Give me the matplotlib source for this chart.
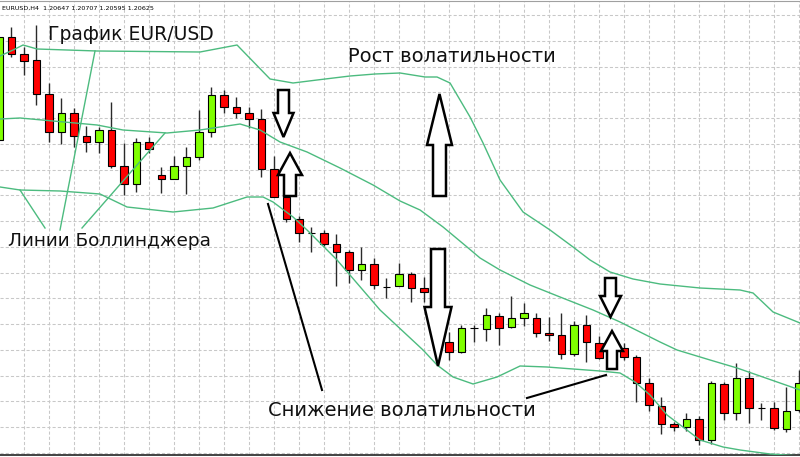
import numpy as np
import matplotlib
matplotlib.use("Agg")
import matplotlib.pyplot as plt
from matplotlib.transforms import Affine2D
from matplotlib.patches import Polygon

# EUR/USD H4 candles (bar index 0..64), prices
opens = [1.1960, 1.2063, 1.2046, 1.2040, 1.2006, 1.1968, 1.1987, 1.1964, 1.1958, 1.1970,
         1.1934, 1.1916, 1.1958, 1.1925, 1.1921, 1.1934, 1.1943, 1.1968, 1.2005, 1.1993,
         1.1987, 1.1981, 1.1931, 1.1903, 1.1881, 1.1867, 1.1867, 1.1856, 1.1848, 1.1830,
         1.1836, 1.1813, 1.1814, 1.1826, 1.1812, 1.1808, 1.1758, 1.1748, 1.1772, 1.1771,
         1.1784, 1.1773, 1.1782, 1.1782, 1.1767, 1.1765, 1.1746, 1.1775, 1.1757, 1.1748,
         1.1752, 1.1743, 1.1717, 1.1694, 1.1676, 1.1673, 1.1681, 1.1660, 1.1716, 1.1687,
         1.1722, 1.1692, 1.1692, 1.1671, 1.1690]
highs = [1.2067, 1.2073, 1.2053, 1.2075, 1.2017, 1.2002, 1.1992, 1.1974, 1.1973, 1.1998,
         1.1957, 1.1962, 1.1963, 1.1933, 1.1944, 1.1953, 1.1990, 1.2013, 1.2010, 1.2003,
         1.1993, 1.1991, 1.1944, 1.1910, 1.1884, 1.1873, 1.1870, 1.1866, 1.1850, 1.1853,
         1.1842, 1.1822, 1.1837, 1.1828, 1.1823, 1.1812, 1.1768, 1.1775, 1.1775, 1.1792,
         1.1787, 1.1804, 1.1797, 1.1787, 1.1783, 1.1787, 1.1779, 1.1785, 1.1764, 1.1758,
         1.1757, 1.1745, 1.1722, 1.1703, 1.1678, 1.1687, 1.1684, 1.1719, 1.1718, 1.1737,
         1.1729, 1.1697, 1.1698, 1.1713, 1.1730]
lows = [1.1958, 1.2043, 1.2025, 1.1995, 1.1958, 1.1956, 1.1953, 1.1948, 1.1947, 1.1932,
        1.1905, 1.1908, 1.1947, 1.1907, 1.1921, 1.1906, 1.1940, 1.1963, 1.1987, 1.1982,
        1.1972, 1.1923, 1.1903, 1.1878, 1.1858, 1.1848, 1.1854, 1.1814, 1.1817, 1.1820,
        1.1811, 1.1802, 1.1814, 1.1798, 1.1798, 1.1778, 1.1740, 1.1747, 1.1758, 1.1759,
        1.1755, 1.1772, 1.1774, 1.1763, 1.1759, 1.1741, 1.1744, 1.1738, 1.1741, 1.1736,
        1.1740, 1.1698, 1.1689, 1.1666, 1.1669, 1.1669, 1.1655, 1.1656, 1.1680, 1.1680,
        1.1677, 1.1680, 1.1670, 1.1668, 1.1688]
closes = [1.2063, 1.2046, 1.2039, 1.2006, 1.1968, 1.1987, 1.1964, 1.1958, 1.1970, 1.1934,
          1.1916, 1.1958, 1.1951, 1.1921, 1.1934, 1.1943, 1.1968, 1.2005, 1.1993, 1.1987,
          1.1981, 1.1931, 1.1903, 1.1881, 1.1867, 1.1867, 1.1856, 1.1848, 1.1830, 1.1836,
          1.1815, 1.1813, 1.1826, 1.1812, 1.1808, 1.1788, 1.1748, 1.1772, 1.1772, 1.1785,
          1.1772, 1.1782, 1.1787, 1.1767, 1.1765, 1.1746, 1.1775, 1.1758, 1.1742, 1.1754,
          1.1743, 1.1717, 1.1695, 1.1676, 1.1673, 1.1681, 1.1660, 1.1717, 1.1687, 1.1722,
          1.1692, 1.1692, 1.1672, 1.1689, 1.1717]

# Bollinger bands, sampled along the curves (bar position, price)
upper_x = [0.1, 1.14, 1.94, 3.06, 7.86, 16.1, 19.06, 21.7, 23.54, 25.46, 28.1, 30.1, 32.1,
           34.1, 35.06, 36.1, 37.7, 38.74, 40.1, 41.94, 44.1, 45.94, 47.3, 48.9, 50.74,
           52.9, 56.1, 59.3, 60.34, 61.94, 64.1]
upper_y = [1.2044, 1.2050, 1.2055, 1.2051, 1.2049, 1.2048, 1.2055, 1.2021, 1.2017, 1.2020,
           1.2024, 1.2026, 1.2027, 1.2023, 1.2023, 1.2017, 1.1983, 1.1957, 1.1920, 1.1888,
           1.1870, 1.1853, 1.1840, 1.1828, 1.1821, 1.1816, 1.1812, 1.1810, 1.1807, 1.1788,
           1.1777]
middle_x = [0.1, 1.7, 7.86, 9.94, 13.46, 16.1, 19.3, 20.9, 22.5, 24.66, 27.3, 29.94, 32.1,
            33.7, 35.54, 37.46, 38.5, 40.1, 42.5, 44.9, 47.54, 49.7, 52.9, 54.26, 56.9,
            59.06, 64.1]
middle_y = [1.1981, 1.1982, 1.1975, 1.1970, 1.1967, 1.1970, 1.1976, 1.1970, 1.1958, 1.1948,
            1.1932, 1.1915, 1.1899, 1.1890, 1.1873, 1.1853, 1.1842, 1.1830, 1.1815, 1.1803,
            1.1790, 1.1778, 1.1758, 1.1750, 1.1740, 1.1732, 1.1710]
lower_x = [0.1, 1.7, 4.9, 8.1, 10.26, 13.94, 17.14, 19.86, 21.14, 21.94, 23.54, 24.66, 25.7,
           27.06, 30.5, 33.94, 35.06, 36.34, 37.94, 39.86, 41.7, 43.86, 45.94, 48.1, 49.7,
           50.9, 52.1, 53.46, 56.1, 57.94, 59.3, 61.7, 64.1]
lower_y = [1.1913, 1.1910, 1.1909, 1.1906, 1.1893, 1.1888, 1.1892, 1.1903, 1.1903, 1.1898,
           1.1883, 1.1870, 1.1857, 1.1840, 1.1790, 1.1750, 1.1735, 1.1723, 1.1716, 1.1723,
           1.1734, 1.1733, 1.1731, 1.1729, 1.1727, 1.1718, 1.1705, 1.1685, 1.1660, 1.1653,
           1.1650, 1.1646, 1.1644]

header = "EURUSD,H4  1.20647 1.20707 1.20595 1.20625"

W, H = 800, 457
fig = plt.figure(figsize=(W / 100, H / 100), dpi=100)
fig.patch.set_facecolor("white")
ax = fig.add_axes([0, 2 / H, 1, 454 / H])
ax.set_xlim(0.096, 64.096)
ax.set_ylim(1.1645, 1.2099)

# dashed terminal grid
ax.set_xticks(np.arange(2.016, 64.1, 2))
ax.set_yticks(1.2085 - 0.002575 * np.arange(18))
ax.grid(True, color="#c8c8c8", lw=0.75, ls=(0, (3, 2)))
ax.set_axisbelow(True)
ax.tick_params(length=0, labelbottom=False, labelleft=False)
for s in ["left", "right"]:
    ax.spines[s].set_visible(False)
ax.spines["top"].set_color("#a0a0a0")
ax.spines["bottom"].set_color("#222222")
ax.spines["bottom"].set_linewidth(1.2)

o = np.array(opens)
c = np.array(closes)
x = np.arange(len(o))
cols = np.where(c >= o, "#80ff00", "#ff0000")
ax.vlines(x, lows, highs, color="#2a2a2a", lw=1.0, zorder=2)
ax.bar(x, np.abs(c - o), bottom=np.minimum(o, c), width=0.6, color=cols,
       edgecolor="black", linewidth=0.8, zorder=3)

band = "#4cbb7f"
ax.plot(upper_x, upper_y, color=band, lw=1.0, zorder=4)
ax.plot(middle_x, middle_y, color=band, lw=1.0, zorder=4)
ax.plot(lower_x, lower_y, color=band, lw=1.0, zorder=4)

# annotation layer in pixel coordinates (origin top-left)
px = Affine2D().scale(1 / W, -1 / H).translate(0, 1) + fig.transFigure


def block_arrow(xc, y_tail, y_base, y_tip, shaft, head):
    pts = [(xc - shaft, y_tail), (xc + shaft, y_tail), (xc + shaft, y_base),
           (xc + head, y_base), (xc, y_tip), (xc - head, y_base), (xc - shaft, y_base)]
    fig.patches.append(Polygon(pts, closed=True, transform=px, facecolor="white",
                               edgecolor="black", lw=1.8, joinstyle="miter", zorder=6))


block_arrow(283.5, 90, 113, 137, 5.5, 10)
block_arrow(290, 196, 175, 153, 6, 12)
block_arrow(439.5, 196, 145, 94, 6.5, 12.5)
block_arrow(438, 249, 307, 366, 7, 13.5)
block_arrow(610.5, 278, 296, 317, 5.5, 10.5)
block_arrow(612, 369, 351, 331, 5, 11)

for (x0, y0, x1, y1) in [(45, 228, 20, 190), (60, 230, 95, 51), (82, 228, 165, 133)]:
    fig.add_artist(plt.Line2D([x0, x1], [y0, y1], transform=px, color=band, lw=1.0))
for (x0, y0, x1, y1) in [(268, 204, 322, 390), (527, 398, 606, 375)]:
    fig.add_artist(plt.Line2D([x0, x1], [y0, y1], transform=px, color="black", lw=1.5))

fig.text(2, 8, header, transform=px, fontsize=4.6, va="center", ha="left", color="black")
fs = 14
fig.text(48, 40, "График EUR/USD", transform=px, fontsize=13.5, va="baseline", color="#111111")
fig.text(348, 62, "Рост волатильности", transform=px, fontsize=fs, va="baseline", color="#111111")
fig.text(8, 246, "Линии Боллинджера", transform=px, fontsize=13.3, va="baseline", color="#111111")
fig.text(268, 416, "Снижение волатильности", transform=px, fontsize=fs, va="baseline", color="#111111")

fig.savefig("out.png", dpi=100)
